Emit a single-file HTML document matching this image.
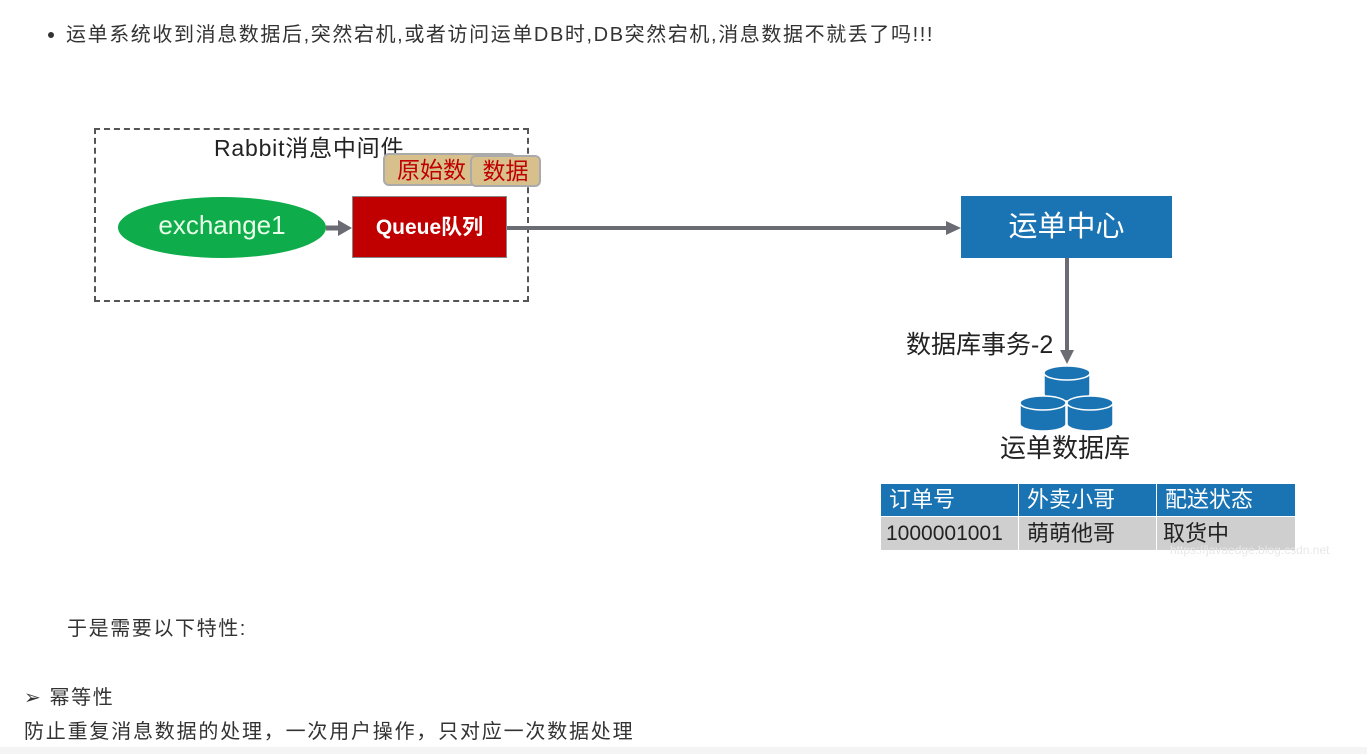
<!DOCTYPE html>
<html><head><meta charset="utf-8"><style>
body{margin:0;width:1367px;height:754px;background:#fff;position:relative;overflow:hidden;font-family:"Liberation Sans","Noto Sans CJK SC",sans-serif;color:#333}
.a{position:absolute;white-space:nowrap}
</style></head><body>
<div class="a" style="left:48px;top:32px;width:6px;height:6px;border-radius:50%;background:#333"></div>
<div class="a" style="left:66px;top:22px;font-size:20px;letter-spacing:1.6px;line-height:26px;color:#333">运单系统收到消息数据后,突然宕机,或者访问运单DB时,DB突然宕机,消息数据不就丢了吗!!!</div>

<div class="a" style="left:94px;top:128px;width:431px;height:170px;border:2px dashed #555"></div>
<div class="a" style="left:214px;top:129px;font-size:23px;letter-spacing:0.8px;color:#222">Rabbit消息中间件</div>
<div class="a" style="left:383px;top:153px;width:133px;height:33px;background:#d8c08c;border:2px solid #aaa;border-radius:6px;box-sizing:border-box;font-size:23px;color:#c00000;padding-left:12px;line-height:30px">原始数</div>
<div class="a" style="left:470px;top:155px;width:71px;height:32px;background:#d8c08c;border:2px solid #aaa;border-radius:6px;box-sizing:border-box;font-size:23px;color:#c00000;text-align:center;line-height:28px">数据</div>
<div class="a" style="left:118px;top:197px;width:208px;height:61px;border-radius:50%;background:#0eac4a;color:#e8ffe8;font-size:26px;text-align:center;line-height:56px">exchange1</div>
<div class="a" style="left:352px;top:196px;width:155px;height:62px;background:#c00000;border:1px solid #888;box-sizing:border-box;color:#fff;font-size:21px;font-weight:bold;text-align:center;line-height:62px">Queue队列</div>

<svg class="a" style="left:0;top:0" width="1367" height="754">
<line x1="326" y1="228" x2="340" y2="228" stroke="#6b6b73" stroke-width="5"/>
<polygon points="338,220 352,228 338,236" fill="#6b6b73"/>
<line x1="507" y1="228" x2="948" y2="228" stroke="#6b6b73" stroke-width="4"/>
<polygon points="946,221 961,228 946,235" fill="#6b6b73"/>
<line x1="1067" y1="258" x2="1067" y2="352" stroke="#6b6b73" stroke-width="4"/>
<polygon points="1060,350 1067,364 1074,350" fill="#6b6b73"/>
<g fill="#1a73b3" stroke="#fff" stroke-width="1.5">
<path d="M1044,373 v21 a23,7 0 0 0 46,0 v-21 z"/><ellipse cx="1067" cy="373" rx="23" ry="7"/>
<path d="M1020,403 v21 a23,7 0 0 0 46,0 v-21 z"/><ellipse cx="1043" cy="403" rx="23" ry="7"/>
<path d="M1067,403 v21 a23,7 0 0 0 46,0 v-21 z"/><ellipse cx="1090" cy="403" rx="23" ry="7"/>
</g>
</svg>

<div class="a" style="left:961px;top:196px;width:211px;height:62px;background:#1a73b3;color:#fff;font-size:29px;text-align:center;line-height:62px">运单中心</div>
<div class="a" style="left:906px;top:325px;font-size:25px;color:#222">数据库事务-2</div>
<div class="a" style="left:1000px;top:428px;font-size:26px;color:#222">运单数据库</div>

<div class="a" style="left:881px;top:484px;width:414px;height:66px;font-size:22px">
<div class="a" style="left:0;top:0;width:137px;height:32px;background:#1a73b3;color:#fff;padding-left:8px;box-sizing:border-box;line-height:32px">订单号</div>
<div class="a" style="left:138px;top:0;width:137px;height:32px;background:#1a73b3;color:#fff;padding-left:8px;box-sizing:border-box;line-height:32px">外卖小哥</div>
<div class="a" style="left:276px;top:0;width:138px;height:32px;background:#1a73b3;color:#fff;padding-left:8px;box-sizing:border-box;line-height:32px">配送状态</div>
<div class="a" style="left:0;top:33px;width:137px;height:33px;background:#cfcfcf;color:#222;padding-left:5px;box-sizing:border-box;line-height:33px;font-size:21px">1000001001</div>
<div class="a" style="left:138px;top:33px;width:137px;height:33px;background:#cfcfcf;color:#222;padding-left:8px;box-sizing:border-box;line-height:33px">萌萌他哥</div>
<div class="a" style="left:276px;top:33px;width:138px;height:33px;background:#cfcfcf;color:#222;padding-left:6px;box-sizing:border-box;line-height:33px">取货中</div>
</div>
<div class="a" style="left:1170px;top:543px;font-size:12px;color:#e8e8e8">https://javaedge.blog.csdn.net</div>

<div class="a" style="left:67px;top:612px;font-size:20px;letter-spacing:1.6px;color:#333">于是需要以下特性:</div>
<div class="a" style="left:24px;top:681px;font-size:20px;letter-spacing:1.6px;color:#333">➢ 幂等性</div>
<div class="a" style="left:24px;top:715px;font-size:20px;letter-spacing:1.8px;color:#333">防止重复消息数据的处理，一次用户操作，只对应一次数据处理</div>
<div class="a" style="left:0;top:747px;width:1367px;height:7px;background:#f4f4f4"></div>
</body></html>
